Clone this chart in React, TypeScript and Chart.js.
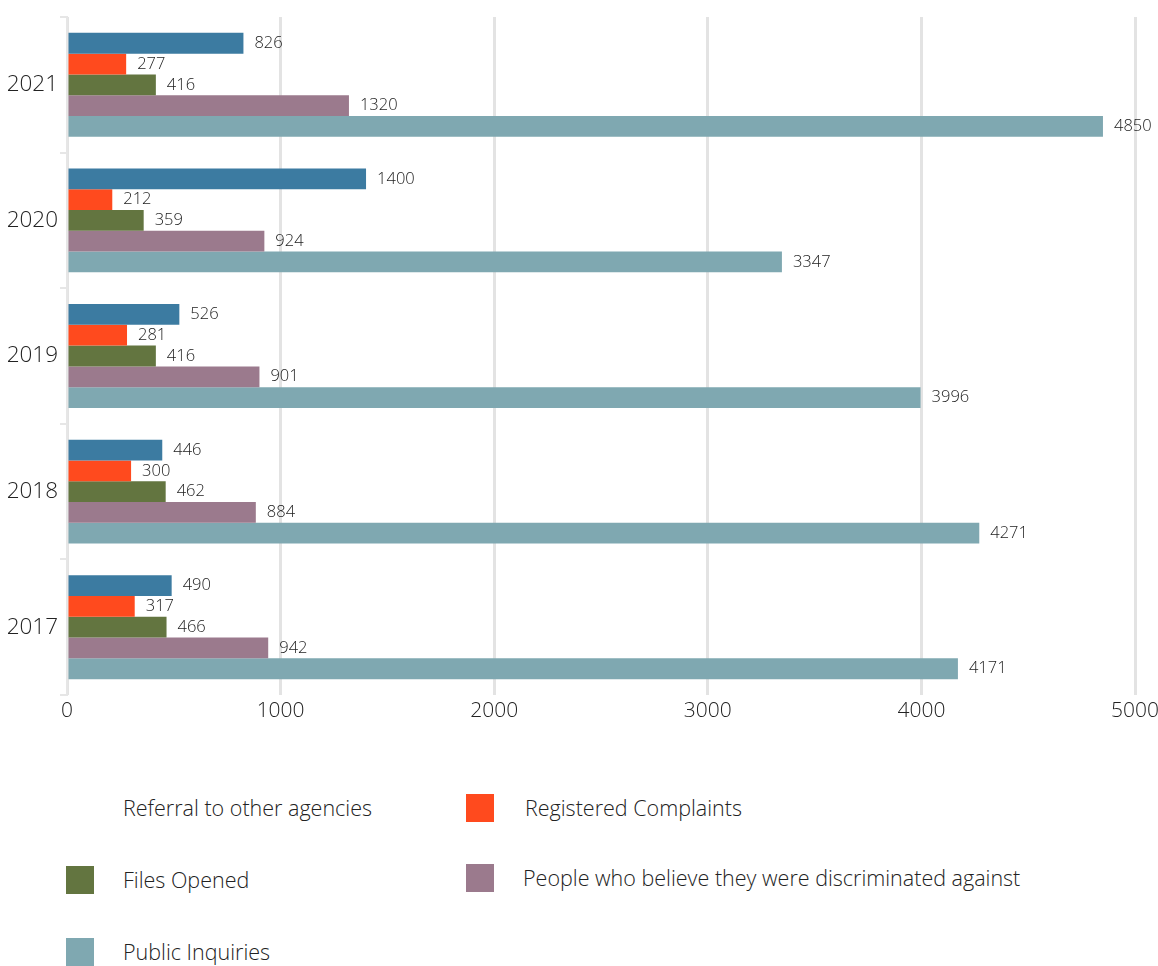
import React, { useEffect, useRef } from "react";
import { Chart, registerables } from "chart.js";

Chart.register(...registerables);

const years = ["2021", "2020", "2019", "2018", "2017"];
const referral = [826, 1400, 526, 446, 490];
const registered = [277, 212, 281, 300, 317];
const filesOpened = [416, 359, 416, 462, 466];
const people = [1320, 924, 901, 884, 942];
const inquiries = [4850, 3347, 3996, 4271, 4171];
const xTicks = [0, 1000, 2000, 3000, 4000, 5000];

const seriesNames = [
  "Referral to other agencies",
  "Registered Complaints",
  "Files Opened",
  "People who believe they were discriminated against",
  "Public Inquiries",
];
const colors = ["#3c7ba1", "#ff4a1e", "#637540", "#9b7a8d", "#7fa8b1"];
const legendBoxColors = ["#ffffff", "#ff4a1e", "#637540", "#9b7a8d", "#7fa8b1"];

const FONT = "'Open Sans', 'Noto Sans', sans-serif";
const TEXT = "#222222";

const valueLabels = {
  id: "valueLabels",
  afterDatasetsDraw(chart: any) {
    const ctx = chart.ctx;
    ctx.save();
    ctx.font = `300 16.5px ${FONT}`;
    ctx.fillStyle = TEXT;
    ctx.textAlign = "left";
    ctx.textBaseline = "middle";
    chart.data.datasets.forEach((ds: any, i: number) => {
      const meta = chart.getDatasetMeta(i);
      meta.data.forEach((bar: any, j: number) => {
        ctx.fillText(String(ds.data[j]), bar.x + 11, bar.y);
      });
    });
    ctx.restore();
  },
};

export default function App() {
  const ref = useRef<HTMLCanvasElement>(null);
  useEffect(() => {
    const datasets = [referral, registered, filesOpened, people, inquiries].map((d, i) => ({
      label: seriesNames[i],
      data: d,
      backgroundColor: colors[i],
      barPercentage: 1,
      categoryPercentage: 0.766,
    }));
    const chart = new Chart(ref.current!, {
      type: "bar",
      data: { labels: years, datasets },
      plugins: [valueLabels],
      options: {
        indexAxis: "y",
        animation: false,
        responsive: false,
        maintainAspectRatio: false,
        layout: { padding: { top: 17, right: 35, left: 0, bottom: 0 } },
        plugins: { legend: { display: false }, tooltip: { enabled: false } },
        scales: {
          x: {
            min: 0,
            max: 5000,
            afterBuildTicks: (s: any) => {
              s.ticks = xTicks.map((v) => ({ value: v }));
            },
            afterFit: (s: any) => {
              s.height = 35;
            },
            grid: { color: "#e3e3e3", lineWidth: 3, drawTicks: false },
            border: { display: false },
            ticks: {
              color: TEXT,
              padding: 3,
              font: { family: FONT, size: 21, weight: "300" },
              maxRotation: 0,
              callback: (v: any) => String(v),
            },
          },
          y: {
            afterFit: (s: any) => {
              s.width = 67;
            },
            grid: { drawOnChartArea: false, color: "#e6e6e6", tickLength: 7, offset: true, lineWidth: 2 },
            border: { display: true, color: "#e6e6e6", width: 2 },
            ticks: {
              color: TEXT,
              padding: 2,
              font: { family: FONT, size: 22.5, weight: "300" },
            },
          },
        },
      },
    });
    return () => chart.destroy();
  }, []);

  const legendPos = [
    { x: 66, y: 794, tx: 123 },
    { x: 466, y: 794, tx: 525 },
    { x: 66, y: 866, tx: 123 },
    { x: 466, y: 864, tx: 523 },
    { x: 66, y: 938, tx: 123 },
  ];

  return (
    <div style={{ position: "absolute", left: 0, top: 0, width: 1158, height: 966, background: "#fff", overflow: "hidden" }}>
      <canvas ref={ref} width={1170} height={730} style={{ position: "absolute", left: 0, top: 0 }} />
      {legendPos.map((p, i) => (
        <React.Fragment key={i}>
          <div
            style={{
              position: "absolute",
              left: p.x,
              top: p.y,
              width: 28,
              height: 28,
              background: legendBoxColors[i],
            }}
          />
          <div
            style={{
              position: "absolute",
              left: p.tx,
              top: p.y + 14,
              transform: "translateY(-50%)",
              fontFamily: FONT,
              fontWeight: 300,
              fontSize: 21.5,
              color: TEXT,
              whiteSpace: "nowrap",
              lineHeight: 1,
            }}
          >
            {seriesNames[i]}
          </div>
        </React.Fragment>
      ))}
    </div>
  );
}
